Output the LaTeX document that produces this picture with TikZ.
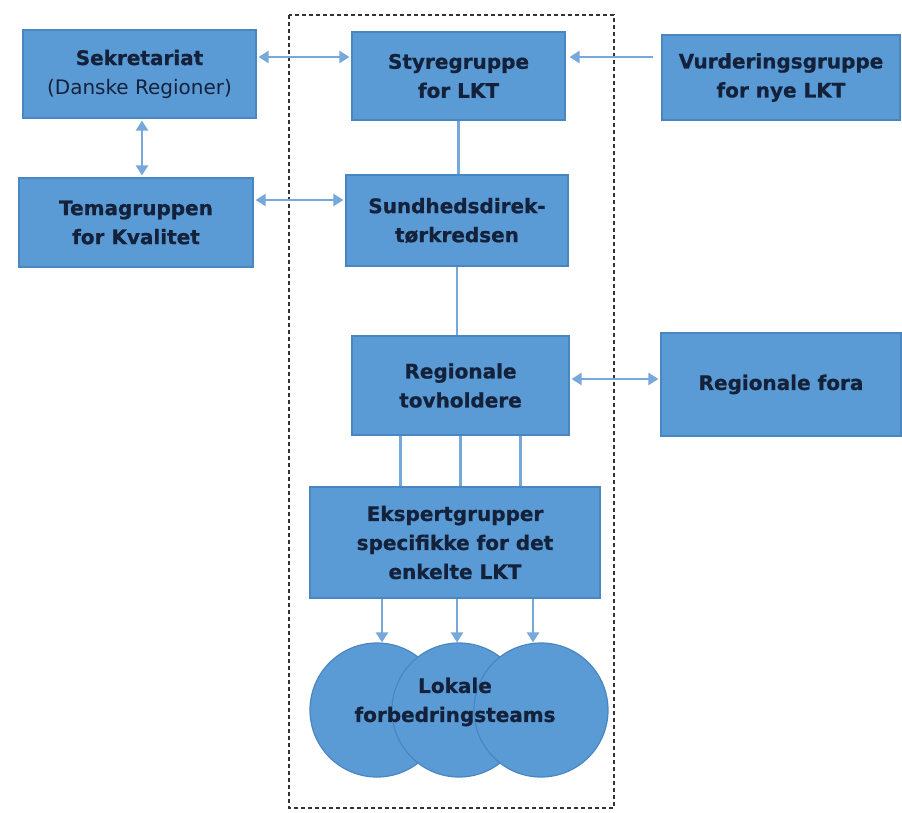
\documentclass[tikz,border=0pt]{standalone}
\usepackage{fontspec}
\setmainfont{DejaVu Sans}[BoldFeatures={FakeBold=0.8}]
\usetikzlibrary{arrows.meta}
\definecolor{boxfill}{HTML}{5B9BD5}
\definecolor{boxline}{HTML}{4A86C2}
\definecolor{conn}{HTML}{76A8DC}
\definecolor{txt}{HTML}{14213A}
\definecolor{framecol}{HTML}{333333}
\begin{document}
\begin{tikzpicture}[x=1pt,y=-1pt,
  box/.style={draw=boxline, line width=1.2pt, fill=boxfill, text=txt,
    font=\fontsize{20}{29}\selectfont\bfseries, align=center, inner sep=0pt},
  team/.style={circle, draw=boxline, line width=1.2pt, fill=boxfill,
    minimum size=134pt, inner sep=0pt},
  link/.style={draw=conn, line width=2.4pt},
  tip/.tip={Triangle[length=10pt,width=12pt]},
  biarrow/.style={link, tip-tip, shorten <=2pt, shorten >=2pt},
  onearrow/.style={link, -tip},
  lbl/.style={text=txt, font=\fontsize{20}{29}\selectfont\bfseries, align=center},
]
\useasboundingbox (0,0) rectangle (902,812);
\fill[white] (0,0) rectangle (902,812);

\draw[framecol, line width=1.4pt, dash pattern=on 4pt off 3pt] (289,15) rectangle (614,808);

\node[box, minimum width=233pt, minimum height=88pt] (sek) at (139.5,74) {Sekretariat\\{\mdseries (Danske Regioner)}};
\node[box, minimum width=213pt, minimum height=88pt] (sty) at (458.5,76) {Styregruppe\\for LKT};
\node[box, minimum width=238pt, minimum height=85pt] (vur) at (781,77.5) {Vurderingsgruppe\\for nye LKT};
\node[box, minimum width=234pt, minimum height=89pt] (tema) at (136,222.5) {Temagruppen\\for Kvalitet};
\node[box, minimum width=222pt, minimum height=91pt] (sun) at (457,220.5) {Sundhedsdirek-\\tørkredsen};
\node[box, minimum width=217pt, minimum height=99pt] (reg) at (460.5,385.5) {Regionale\\tovholdere};
\node[box, minimum width=240pt, minimum height=103pt] (fora) at (781,384.5) {Regionale fora};
\node[box, minimum width=290pt, minimum height=111pt] (eks) at (455,542.5) {Ekspertgrupper\\specifikke for det\\enkelte LKT};

\node[team] (c1) at (377,710) {};
\node[team] (c2) at (459,710) {};
\node[team] (c3) at (541,710) {};
\node[lbl] (lok) at (455,702) {Lokale\\forbedringsteams};

% connectors
\draw[biarrow] ([yshift=17pt]sek.east) -- ([yshift=17pt]sek.east -| sty.west);
\draw[onearrow, shorten >=4pt, shorten <=8pt] ([yshift=20.5pt]vur.west) -- ([yshift=20.5pt]vur.west -| sty.east);
\draw[biarrow] ([xshift=2.5pt]sek.south) -- ([xshift=2.5pt]sek.south |- tema.north);
\draw[biarrow] ([yshift=22.5pt]tema.east) -- ([yshift=22.5pt]tema.east -| sun.west);
\draw[link] (sty.south) -- (sty.south |- sun.north);
\draw[link] (sun.south) -- (sun.south |- reg.north);
\draw[biarrow] ([yshift=6.5pt]reg.east) -- ([yshift=6.5pt]reg.east -| fora.west);
\foreach \dx in {-60,0,60}
  \draw[link] ([xshift=\dx pt]reg.south) -- ([xshift=\dx pt]reg.south |- eks.north);
\draw[onearrow] ([xshift=-73pt]eks.south) -- ([xshift=-73pt]eks.south |- c1.north);
\draw[onearrow] ([xshift=2pt]eks.south) -- ([xshift=2pt]eks.south |- c2.north);
\draw[onearrow] ([xshift=78pt]eks.south) -- ([xshift=78pt]eks.south |- c3.north);
\end{tikzpicture}
\end{document}
